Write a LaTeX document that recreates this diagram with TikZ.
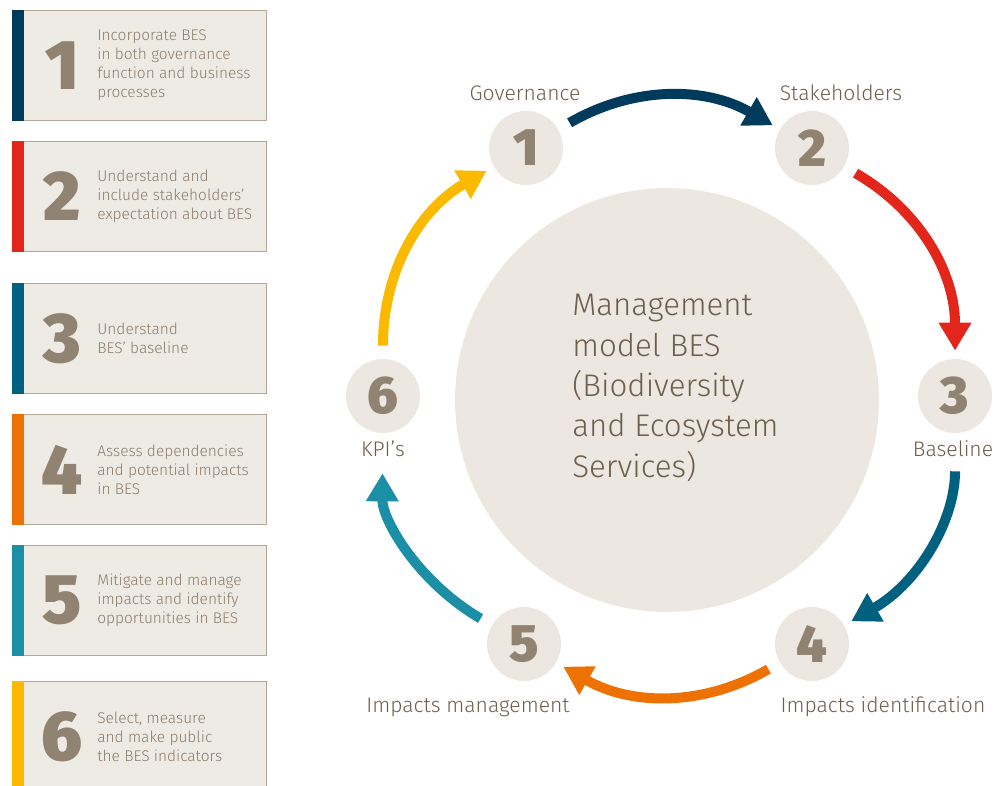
\documentclass[tikz,border=0pt]{standalone}
\usepackage{fontspec}
\setmainfont{Fira Sans Light}
\newfontfamily\digitfont{Fira Sans Black}
\usetikzlibrary{arrows.meta,positioning,calc}
\definecolor{boxfill}{HTML}{EEEBE5}
\definecolor{boxline}{HTML}{B3A898}
\definecolor{digit}{HTML}{918371}
\definecolor{boxtext}{HTML}{8C7D6B}
\definecolor{labeltext}{HTML}{6E5E4C}
\definecolor{bigfill}{HTML}{ECE8E1}
\definecolor{stepA}{HTML}{003B5C}
\definecolor{stepB}{HTML}{E2261C}
\definecolor{stepC}{HTML}{00607F}
\definecolor{stepD}{HTML}{EE7203}
\definecolor{stepE}{HTML}{1A8FA6}
\definecolor{stepF}{HTML}{FBB900}

\begin{document}
\begin{tikzpicture}[x=0.02cm, y=-0.02cm,
  stepcard/.style={rectangle, draw=boxline, fill=boxfill, line width=0.5pt,
                   minimum width=5.08cm, minimum height=2.2cm, anchor=north west,
                   inner sep=0pt},
  carddigit/.style={font=\fontsize{40}{40}\selectfont\digitfont, text=digit},
  cardtext/.style={font=\fontsize{8.8}{10.8}\selectfont, text=boxtext,
                   align=left, anchor=west, inner sep=0pt},
  stage/.style={circle, fill=bigfill, minimum size=1.48cm, inner sep=0pt,
                font=\fontsize{30}{30}\selectfont\digitfont, text=digit},
  stagelabel/.style={font=\fontsize{12}{14}\selectfont, text=labeltext},
  cycle/.style={line width=0.2cm, -{Triangle[width=0.62cm, length=0.56cm]},
                bend left=30, shorten <=0.26cm, shorten >=0.16cm},
]
  \useasboundingbox (0,0) rectangle (1000,786);

  % ========= STEP CARDS (left column) =========
  \foreach \i/\y/\col/\txt in {
      1/10/stepA/{Incorporate BES\\in both governance\\function and business\\processes},
      2/141/stepB/{Understand and\\include stakeholders’\\expectation about BES},
      3/283/stepC/{Understand\\BES’ baseline},
      4/414/stepD/{Assess dependencies\\and potential impacts\\in BES},
      5/545/stepE/{Mitigate and manage\\impacts and identify\\opportunities in BES},
      6/681/stepF/{Select, measure\\and make public\\the BES indicators}} {
    \node[stepcard] (card\i) at (12,\y) {};
    \fill[\col] (card\i.north west) rectangle ($(card\i.south west)+(12,0)$);
    \node[carddigit] (num\i) at ($(card\i.west)+(50,0)$) {\i};
    \node[cardtext] (txt\i) at ($(card\i.west)+(85,0)$) {\txt};
  }

  % ========= MANAGEMENT MODEL (hub) =========
  \node[circle, fill=bigfill, minimum size=8.48cm] (hub) at (667,400) {};
  \node[anchor=west, align=left, inner sep=0pt, text=labeltext,
        font=\fontsize{17.8}{23}\selectfont] (hubtext) at (572,388)
       {Management\\model BES\\(Biodiversity\\and Ecosystem\\Services)};

  % Stages on the ring
  \foreach \i/\x/\y in {1/526/148, 2/812/148, 3/955/396,
                        4/812/644, 5/524/644, 6/383/396} {
    \node[stage] (s\i) at (\x,\y) {\i};
  }

  % Stage labels
  \node[stagelabel] (lab1) at (525,93) {Governance};
  \node[stagelabel] (lab2) at (841,93) {Stakeholders};
  \node[stagelabel] (lab3) at (953,449) {Baseline};
  \node[stagelabel] (lab4) at (883,707) {Impacts identification};
  \node[stagelabel] (lab5) at (468,707) {Impacts management};
  \node[stagelabel] (lab6) at (383,449) {KPI’s};

  % Cycle arrows (longer gaps next to the Baseline and KPI labels)
  \draw[cycle, stepA] (s1) to (s2);
  \draw[cycle, stepB] (s2) to (s3);
  \draw[cycle, stepC, shorten <=0.76cm] (s3) to (s4);
  \draw[cycle, stepD] (s4) to (s5);
  \draw[cycle, stepE, shorten >=0.8cm] (s5) to (s6);
  \draw[cycle, stepF] (s6) to (s1);

\end{tikzpicture}
\end{document}
